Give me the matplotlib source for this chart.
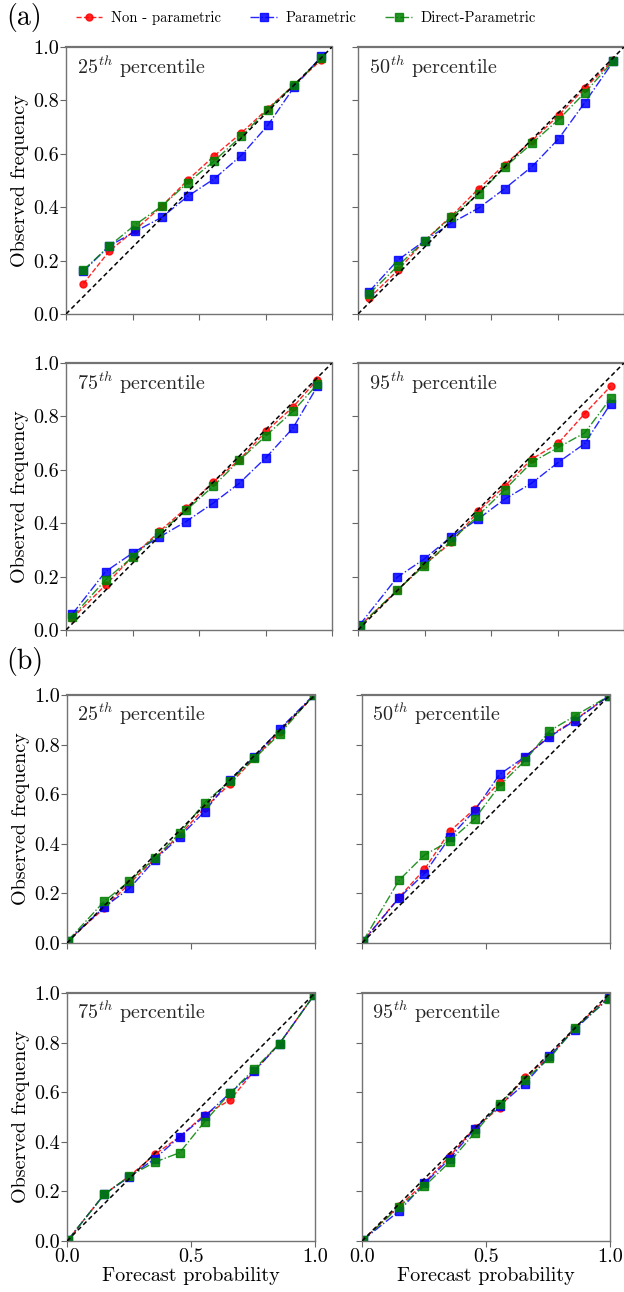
import numpy as np
import matplotlib
matplotlib.use('agg')
from matplotlib import pyplot as plt

plt.rcParams['font.family'] = 'serif'
plt.rcParams['font.serif'] = ['cmr10', 'DejaVu Serif']
plt.rcParams['mathtext.fontset'] = 'cm'
plt.rcParams['axes.formatter.use_mathtext'] = True

W, H = 624, 1292

methods = ['Non - parametric', 'Parametric', 'Direct-Parametric']
percentiles = ['25', '50', '75', '95']

# (a) forecast probability bins
prob_a = {
    '25': [0.065, 0.163, 0.26, 0.36, 0.458, 0.558, 0.658, 0.758, 0.857, 0.96],
    '50': [0.042, 0.15, 0.25, 0.35, 0.454, 0.551, 0.654, 0.754, 0.852, 0.96],
    '75': [0.024, 0.149, 0.25, 0.351, 0.451, 0.553, 0.652, 0.752, 0.853, 0.945],
    '95': [0.006, 0.148, 0.248, 0.351, 0.451, 0.551, 0.653, 0.753, 0.852, 0.95],
}
# (a) observed frequency: non-parametric, parametric, direct-parametric
obs_a = {
    '25': [[0.113, 0.236, 0.315, 0.404, 0.502, 0.593, 0.677, 0.769, 0.858, 0.952],
           [0.160, 0.255, 0.309, 0.362, 0.441, 0.507, 0.593, 0.706, 0.849, 0.965],
           [0.164, 0.255, 0.334, 0.404, 0.492, 0.574, 0.665, 0.765, 0.858, 0.958]],
    '50': [[0.059, 0.164, 0.274, 0.366, 0.470, 0.559, 0.649, 0.744, 0.845, 0.952],
           [0.084, 0.202, 0.274, 0.340, 0.397, 0.469, 0.552, 0.656, 0.791, 0.946],
           [0.076, 0.180, 0.274, 0.362, 0.450, 0.549, 0.639, 0.728, 0.828, 0.948]],
    '75': [[0.044, 0.169, 0.275, 0.369, 0.456, 0.554, 0.638, 0.744, 0.835, 0.938],
           [0.060, 0.219, 0.288, 0.348, 0.406, 0.475, 0.550, 0.646, 0.756, 0.913],
           [0.050, 0.188, 0.273, 0.363, 0.448, 0.538, 0.635, 0.728, 0.819, 0.920]],
    '95': [[0.015, 0.148, 0.244, 0.328, 0.444, 0.538, 0.640, 0.700, 0.810, 0.913],
           [0.019, 0.198, 0.265, 0.350, 0.415, 0.490, 0.550, 0.628, 0.698, 0.848],
           [0.015, 0.150, 0.240, 0.335, 0.428, 0.525, 0.628, 0.684, 0.738, 0.868]],
}

# (b) forecast probability bins
prob_b = [0.004, 0.15, 0.252, 0.354, 0.454, 0.555, 0.656, 0.756, 0.857, 0.995]
obs_b = {
    '25': [[0.010, 0.140, 0.240, 0.340, 0.435, 0.545, 0.640, 0.745, 0.850, 1.000],
           [0.010, 0.145, 0.220, 0.335, 0.428, 0.530, 0.658, 0.750, 0.862, 1.000],
           [0.010, 0.168, 0.250, 0.342, 0.442, 0.566, 0.652, 0.745, 0.842, 1.000]],
    '50': [[0.007, 0.185, 0.297, 0.450, 0.541, 0.649, 0.750, 0.834, 0.899, 0.996],
           [0.007, 0.182, 0.280, 0.426, 0.534, 0.680, 0.750, 0.831, 0.896, 0.996],
           [0.007, 0.254, 0.355, 0.412, 0.500, 0.635, 0.734, 0.855, 0.915, 0.996]],
    '75': [[0.004, 0.188, 0.262, 0.349, 0.420, 0.510, 0.567, 0.687, 0.796, 0.990],
           [0.004, 0.188, 0.259, 0.332, 0.420, 0.503, 0.595, 0.685, 0.796, 0.990],
           [0.004, 0.188, 0.262, 0.318, 0.356, 0.481, 0.595, 0.694, 0.796, 0.990]],
    '95': [[0.004, 0.141, 0.235, 0.342, 0.456, 0.537, 0.662, 0.742, 0.859, 0.984],
           [0.004, 0.121, 0.232, 0.332, 0.452, 0.546, 0.634, 0.745, 0.852, 0.980],
           [0.004, 0.138, 0.221, 0.319, 0.436, 0.554, 0.651, 0.736, 0.859, 0.976]],
}

styles = [dict(color='red', ls='--', marker='o', ms=5),
          dict(color='blue', ls='-.', marker='s', ms=5.5),
          dict(color='green', ls='-.', marker='s', ms=5.5)]

FS = 14.5


def px_axes(fig, l, t, w, h):
    return fig.add_axes([l / W, 1 - (t + h) / H, w / W, h / H])


def draw_panel(ax, x, ys, pct, xticks, show_xlabels, show_ylabel):
    handles = []
    for y, st, name in zip(ys, styles, methods):
        h, = ax.plot(x, y, lw=1.0, alpha=0.85, label=name, **st)
        handles.append(h)
    ax.plot([0, 1], [0, 1], color='black', ls='--', lw=1.1, dashes=(3, 2), zorder=5)
    ax.set_xlim(0, 1)
    ax.set_ylim(0, 1)
    ax.set_xticks(xticks)
    ax.set_yticks([0, 0.2, 0.4, 0.6, 0.8, 1.0])
    ax.text(0.04, 0.975, r'$%s^{th}$ percentile' % pct, transform=ax.transAxes,
            ha='left', va='top', fontsize=FS, color='0.15')
    for s in ax.spines.values():
        s.set_color('0.45')
        s.set_linewidth(1.0)
    ax.spines['top'].set_linewidth(1.6)
    ax.tick_params(direction='out', length=4, width=0.8, color='0.4',
                   labelsize=FS, pad=1)
    if show_xlabels:
        ax.set_xticklabels(['0.0', '0.5', '1.0'])
        ax.set_xlabel('Forecast probability', fontsize=FS, labelpad=1)
    else:
        ax.set_xticklabels([])
    if show_ylabel:
        ax.set_yticklabels(['0.0', '0.2', '0.4', '0.6', '0.8', '1.0'])
        ax.set_ylabel('Observed frequency', fontsize=FS, labelpad=3)
    else:
        ax.set_yticklabels([])
    return handles


fig = plt.figure(figsize=(W / 100, H / 100), dpi=100)

# part (a): 2x2 grid
a_left = [66, 358]
a_top = [47, 363]
a_size = 266
for i, pct in enumerate(percentiles):
    r, c = divmod(i, 2)
    ax = px_axes(fig, a_left[c], a_top[r], a_size, a_size + 1)
    handles = draw_panel(ax, prob_a[pct], obs_a[pct], pct,
                         [0, 0.25, 0.5, 0.75, 1.0], False, c == 0)

# part (b): 2x2 grid
b_left = [67, 362]
b_top = [695, 993]
b_size = 248
for i, pct in enumerate(percentiles):
    r, c = divmod(i, 2)
    ax = px_axes(fig, b_left[c], b_top[r], b_size, b_size)
    draw_panel(ax, prob_b, obs_b[pct], pct, [0, 0.5, 1.0], r == 1, c == 0)

fig.legend(handles=handles, labels=methods, loc='center', ncol=3,
           bbox_to_anchor=(306 / W, 1 - 18 / H), frameon=False, fontsize=10.5,
           handlelength=1.8, columnspacing=2.0, handletextpad=0.6)

fig.text(6 / W, 1 - 18 / H, '(a)', fontsize=20, ha='left', va='center')
fig.text(6 / W, 1 - 662 / H, '(b)', fontsize=20, ha='left', va='center')

fig.savefig('out.png', dpi=100)
